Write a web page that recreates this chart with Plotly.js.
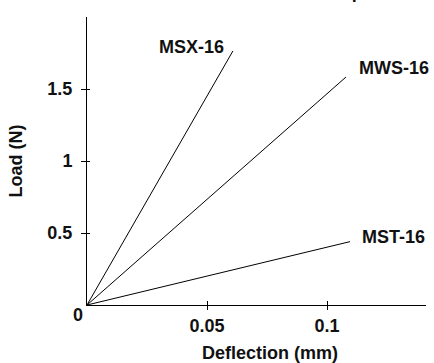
<!DOCTYPE html>
<html><head><meta charset="utf-8">
<script src="https://cdn.plot.ly/plotly-3.0.1.min.js"></script>
<style>html,body{margin:0;padding:0;background:#fff}#chart{width:434px;height:363px}</style>
</head><body><div id="chart"></div>
<script>
const seriesNames = ["MSX-16", "MWS-16", "MST-16"];
const deflectionMM = [[0, 0.0608], [0, 0.1079], [0, 0.1096]];
const loadN = [[0, 1.764], [0, 1.583], [0, 0.44]];
const xTickVals = [0.05, 0.1];
const xTickText = ["0.05", "0.1"];
const yTickVals = [0.5, 1, 1.5];
const yTickText = ["0.5", "1", "1.5"];
const titleText = "Load Deflection of Cantilever Tip";

const FONT = "'Liberation Sans', Arial, Helvetica, sans-serif";
const FS = 18;
const traces = seriesNames.map((n, i) => ({
  type: "scatter", mode: "lines", name: n,
  x: deflectionMM[i], y: loadN[i],
  line: {color: "#000", width: 1}, hoverinfo: "skip", showlegend: false
}));

const labelOffsets = [
  {xanchor: "right", xshift: -7, yshift: 4},
  {xanchor: "left", xshift: 11, yshift: 9},
  {xanchor: "left", xshift: 10, yshift: 5}
];
const annotations = seriesNames.map((n, i) => Object.assign({
  x: deflectionMM[i][1], y: loadN[i][1], xref: "x", yref: "y",
  text: "<b>" + n + "</b>", showarrow: false, yanchor: "middle",
  font: {family: FONT, size: FS, color: "#111"}
}, labelOffsets[i]));
annotations.push({
  x: 0, y: 0, xref: "paper", yref: "paper", text: "<b>0</b>", showarrow: false,
  xanchor: "center", yanchor: "middle", xshift: -9, yshift: -10,
  font: {family: FONT, size: FS, color: "#111"}
});
annotations.push({
  x: 0.541, y: 0, xref: "paper", yref: "paper", text: "<b>Deflection (mm)</b>", showarrow: false,
  xanchor: "center", yanchor: "middle", yshift: -48,
  font: {family: FONT, size: FS, color: "#111"}
});
annotations.push({
  x: 0.40, y: 1, xref: "paper", yref: "paper", text: "<b>" + titleText + "</b>", showarrow: false,
  xanchor: "center", yanchor: "bottom", yshift: 13,
  font: {family: FONT, size: FS, color: "#111"}
});

const axCommon = {showgrid: false, zeroline: false, tickcolor: "#000", tickwidth: 1,
  tickfont: {family: FONT, size: FS, color: "#111"}};
const layout = {
  width: 434, height: 363,
  margin: {l: 87, r: 8, t: 17, b: 58},
  paper_bgcolor: "#fff", plot_bgcolor: "#fff",
  showlegend: false,
  xaxis: Object.assign({}, axCommon, {range: [0, 0.14125], showline: true, linecolor: "#000", linewidth: 1,
    ticks: "outside", ticklen: 4, tickvals: xTickVals, ticktext: xTickText.map(t => "<b>" + t + "</b>"),
    ticklabelstandoff: 0}),
  yaxis: Object.assign({}, axCommon, {range: [0, 2], showline: true, linecolor: "#000", linewidth: 1,
    ticks: "outside", ticklen: 5, tickvals: yTickVals, ticktext: yTickText.map(t => "<b>" + t + "</b>"),
    ticklabelstandoff: 5,
    title: {text: "<b>Load (N)</b>", font: {family: FONT, size: FS, color: "#111"}, standoff: 20}}),
  xaxis2: Object.assign({}, axCommon, {overlaying: "x", anchor: "y", range: [0, 0.14125], showline: false,
    ticks: "inside", ticklen: 4, tickvals: xTickVals, showticklabels: false}),
  yaxis2: Object.assign({}, axCommon, {overlaying: "y", anchor: "x", range: [0, 2], showline: false,
    ticks: "inside", ticklen: 3, tickvals: yTickVals, showticklabels: false}),
  annotations: annotations
};
traces.push({type: "scatter", mode: "lines", x: [0], y: [0], xaxis: "x2", yaxis: "y2",
  line: {color: "rgba(0,0,0,0)"}, hoverinfo: "skip", showlegend: false});
Plotly.newPlot("chart", traces, layout, {staticPlot: true, displayModeBar: false});
</script></body></html>
